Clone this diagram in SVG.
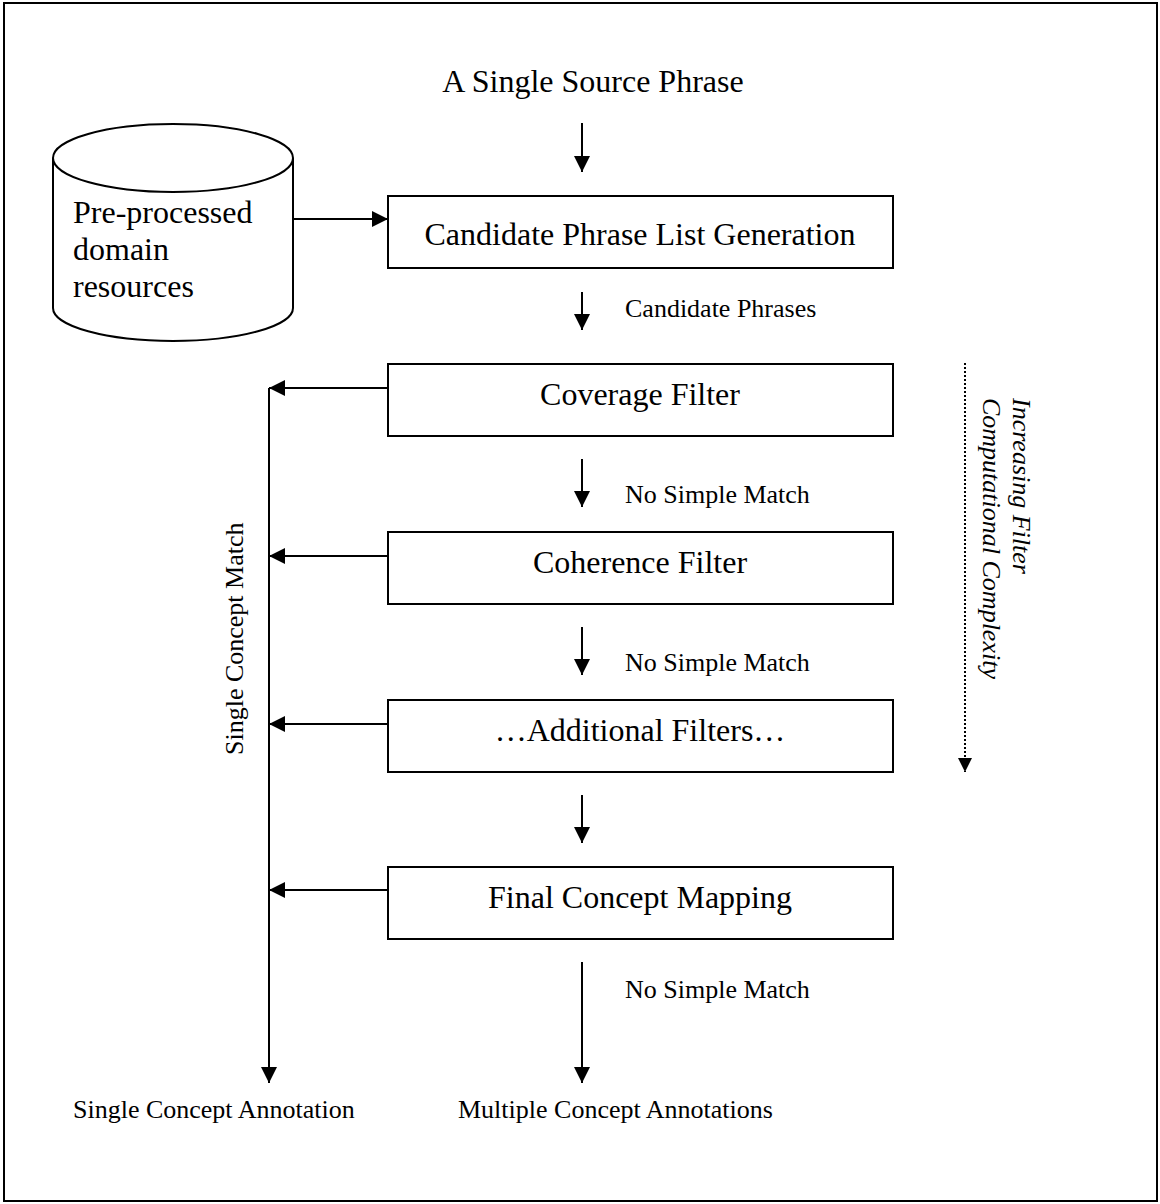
<svg xmlns="http://www.w3.org/2000/svg" width="1160" height="1204" viewBox="0 0 1160 1204">
  <style>
    text { font-family: "Liberation Serif", "Times New Roman", serif; fill: #000; }
    .big { font-size: 32px; }
    .small { font-size: 26px; }
    .mid { text-anchor: middle; }
    .box { fill: #fff; stroke: #000; stroke-width: 2; }
    .line { fill: none; stroke: #000; stroke-width: 2; }
    .dots { fill: none; stroke: #000; stroke-width: 2; stroke-dasharray: 2 2; }
  </style>
  <defs>
    <marker id="head" viewBox="0 0 16 16" refX="16" refY="8" markerWidth="16" markerHeight="16" markerUnits="userSpaceOnUse" orient="auto">
      <path d="M0,0 L16,8 L0,16 Z" fill="#000"/>
    </marker>
    <marker id="headSmall" viewBox="0 0 14 14" refX="14" refY="7" markerWidth="14" markerHeight="14" markerUnits="userSpaceOnUse" orient="auto">
      <path d="M0,0 L14,7 L0,14 Z" fill="#000"/>
    </marker>
  </defs>

  <!-- page frame -->
  <rect x="4" y="3" width="1153" height="1198" fill="#fff" stroke="#000" stroke-width="2"/>

  <!-- free-standing labels -->
  <text id="source" class="big mid" x="593" y="92">A Single Source Phrase</text>

  <!-- domain resources store -->
  <g id="resources">
    <path class="box" d="M53,158 L53,308 A120,33 0 0 0 293,308 L293,158"/>
    <ellipse class="box" cx="173" cy="158" rx="120" ry="34"/>
    <text class="big" x="73" y="223">Pre-processed</text>
    <text class="big" x="73" y="260">domain</text>
    <text class="big" x="73" y="297">resources</text>
  </g>

  <g id="candidate-generation">
    <rect class="box" x="388" y="196" width="505" height="72"/>
    <text class="big mid" x="640" y="245">Candidate Phrase List Generation</text>
  </g>

  <g id="coverage-filter">
    <rect class="box" x="388" y="364" width="505" height="72"/>
    <text class="big mid" x="640" y="405">Coverage Filter</text>
  </g>

  <g id="coherence-filter">
    <rect class="box" x="388" y="532" width="505" height="72"/>
    <text class="big mid" x="640" y="573">Coherence Filter</text>
  </g>

  <g id="additional-filters">
    <rect class="box" x="388" y="700" width="505" height="72"/>
    <text class="big mid" x="640" y="741">…Additional Filters…</text>
  </g>

  <g id="final-mapping">
    <rect class="box" x="388" y="867" width="505" height="72"/>
    <text class="big mid" x="640" y="908">Final Concept Mapping</text>
  </g>

  <g id="single-annotation">
    <text class="small" x="73" y="1118">Single Concept Annotation</text>
  </g>

  <g id="multiple-annotations">
    <text class="small" x="458" y="1118">Multiple Concept Annotations</text>
  </g>

  <!-- connectors -->
  <g id="connectors">
    <line class="line" x1="582" y1="123" x2="582" y2="172" marker-end="url(#head)"/>
    <line class="line" x1="293" y1="219" x2="388" y2="219" marker-end="url(#head)"/>
    <line class="line" x1="582" y1="292" x2="582" y2="330" marker-end="url(#head)"/>
    <line class="line" x1="582" y1="459" x2="582" y2="507" marker-end="url(#head)"/>
    <line class="line" x1="582" y1="627" x2="582" y2="675" marker-end="url(#head)"/>
    <line class="line" x1="582" y1="795" x2="582" y2="843" marker-end="url(#head)"/>
    <line class="line" x1="582" y1="962" x2="582" y2="1083" marker-end="url(#head)"/>

    <!-- early exits to the single-match rail -->
    <line class="line" x1="388" y1="388" x2="269" y2="388" marker-end="url(#head)"/>
    <line class="line" x1="388" y1="556" x2="269" y2="556" marker-end="url(#head)"/>
    <line class="line" x1="388" y1="724" x2="269" y2="724" marker-end="url(#head)"/>
    <line class="line" x1="388" y1="890" x2="269" y2="890" marker-end="url(#head)"/>
    <line class="line" x1="269" y1="388" x2="269" y2="1083" marker-end="url(#head)"/>

    <!-- complexity axis -->
    <line class="dots" x1="965" y1="363" x2="965" y2="772" marker-end="url(#headSmall)"/>
  </g>

  <!-- connector labels -->
  <text class="small" x="625" y="317">Candidate Phrases</text>
  <text class="small" x="625" y="503">No Simple Match</text>
  <text class="small" x="625" y="671">No Simple Match</text>
  <text class="small" x="625" y="998">No Simple Match</text>
  <text class="small" transform="translate(243,755) rotate(-90)">Single Concept Match</text>
  <g font-style="italic">
    <text class="small" transform="translate(1013,398) rotate(90)">Increasing Filter</text>
    <text class="small" transform="translate(983,398) rotate(90)">Computational Complexity</text>
  </g>
</svg>
